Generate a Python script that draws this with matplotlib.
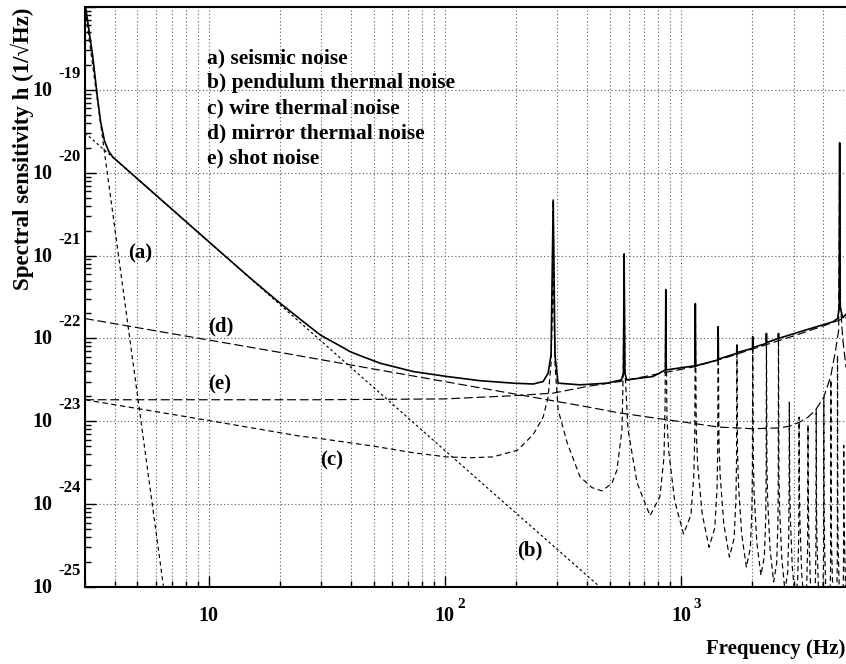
import numpy as np
import matplotlib
matplotlib.use('Agg')
import matplotlib.pyplot as plt
from matplotlib.ticker import LogLocator
from matplotlib.transforms import offset_copy

# ---------------- data ----------------
# (a) seismic noise
seis_f = [3.0, 4.59, 6.45, 7.0]
seis_logh = [-18.02, -21.90, -25.00, -25.75]

# (b) pendulum thermal noise
pend_f = [3.0, 10.0, 100.0, 1000.0]
pend_logh = [-19.52, -20.83, -23.35, -25.86]

# (c) wire thermal noise (violin modes)
wire_f = [3, 10, 24.5, 30, 50, 73.6, 102, 128, 160, 203, 237, 261, 274, 282, 286,
          288, 290, 293, 302, 330, 374, 420, 463, 510, 536, 563, 570,
          575, 580, 597, 652, 740, 815, 848, 857,
          863, 873, 888, 941, 1026, 1103, 1134, 1145,
          1151, 1162, 1177, 1231, 1315, 1391, 1422, 1432,
          1438, 1449, 1465, 1519, 1605, 1680, 1710, 1720,
          1726, 1737, 1753, 1808, 1893, 1968, 1998, 2008,
          2014, 2025, 2041, 2096, 2182, 2256, 2287, 2296,
          2302, 2313, 2329, 2384, 2470, 2544, 2574, 2583,
          2589, 2600, 2617, 2673, 2758, 2833, 2862, 2871,
          2877, 2888, 2905, 2961, 3047, 3121, 3150, 3160,
          3165, 3176, 3193, 3249, 3334, 3407, 3437, 3446,
          3452, 3463, 3480, 3536, 3622, 3696, 3726, 3734,
          3740, 3751, 3768, 3824, 3910, 3984, 4013, 4023,
          4028, 4039, 4056, 4112, 4198, 4271, 4300, 4309,
          4315, 4326, 4343, 4399, 4485, 4558, 4588, 4597,
          4603, 4615, 4631, 4688, 4774, 4847, 4877, 4885,
          4891, 4900, 5000]
wire_logh = [-22.74, -22.99, -23.18, -23.21, -23.30, -23.38, -23.43, -23.44, -23.43, -23.35, -23.16, -22.95, -22.71, -22.30, -21.60,
             -20.33, -21.60, -22.30, -22.86, -23.26, -23.67, -23.80, -23.84, -23.75, -23.59, -23.10, -22.40,
             -20.98, -22.40, -23.10, -23.74, -24.14, -23.91, -23.43, -22.80,
             -21.41, -22.96, -23.36, -23.96, -24.36, -24.13, -23.66, -23.16,
             -21.58, -23.12, -23.52, -24.12, -24.52, -24.29, -23.82, -23.32,
             -21.86, -23.24, -23.64, -24.24, -24.64, -24.41, -23.94, -23.44,
             -22.08, -23.36, -23.76, -24.36, -24.76, -24.53, -24.06, -23.56,
             -21.98, -23.46, -23.86, -24.46, -24.86, -24.63, -24.16, -23.66,
             -21.94, -23.54, -23.94, -24.54, -24.94, -24.71, -24.24, -23.74,
             -21.95, -23.65, -24.05, -24.65, -25.05, -24.82, -24.35, -23.85,
             -22.77, -23.75, -24.15, -24.75, -25.15, -24.92, -24.45, -23.95,
             -22.95, -23.85, -24.25, -24.85, -25.25, -25.02, -24.55, -24.05,
             -23.04, -23.95, -24.35, -24.95, -25.35, -25.12, -24.65, -24.15,
             -22.86, -24.05, -24.45, -25.05, -25.45, -25.22, -24.75, -24.25,
             -22.71, -24.10, -24.50, -25.10, -25.50, -25.27, -24.80, -24.30,
             -22.50, -24.10, -24.50, -25.10, -25.50, -25.27, -24.80, -24.30,
             -22.20, -24.10, -24.50, -25.10, -25.50, -25.27, -24.80, -24.30,
             -23.29, -24.10, -25.30]

# (d) mirror thermal noise
mirror_f = [3, 20.2, 374, 552, 864, 1157, 1448, 2016, 2597, 2878, 3186, 3454,
            3724, 4025, 4306, 4519, 4655, 4700, 4740, 4842, 5000]
mirror_logh = [-21.76, -22.17, -22.81, -22.90, -22.98, -23.03, -23.07, -23.09, -23.08, -23.06, -23.01, -22.95,
               -22.86, -22.71, -22.46, -22.14, -21.90, -19.64, -21.60, -22.00, -22.35]

# (e) shot noise
shot_f = [3, 30, 100, 200, 288, 400, 552, 761, 1146, 1600, 2000, 3000, 4000, 5000]
shot_logh = [-22.74, -22.74, -22.73, -22.69, -22.66, -22.58, -22.52, -22.44, -22.34, -22.22, -22.13, -21.97, -21.85, -21.75]

# total sensitivity
total_f = [3.0, 3.23, 3.39, 3.49, 3.63, 3.78, 3.93, 10, 15, 20.2, 25, 29.8, 35, 39.8, 45, 53.4, 73.6, 102.5, 141, 195, 237, 261, 274,
           282, 288, 293, 302, 374, 487, 560, 571, 575, 579, 590, 761, 860, 863, 866, 1147, 1151, 1155,
           1434, 1438, 1442, 1722, 1726, 1730, 2010, 2014, 2018, 2298, 2302, 2306, 2585, 2589, 2593,
           3186, 4392, 4611, 4680, 4700, 4720, 4842, 5000]
total_logh = [-17.95, -18.58, -19.10, -19.38, -19.62, -19.74, -19.81, -20.83, -21.27, -21.58, -21.79, -21.96, -22.07, -22.16, -22.22, -22.30, -22.40, -22.46, -22.51, -22.54, -22.55, -22.52, -22.42,
              -22.20, -20.33, -22.20, -22.54, -22.56, -22.54, -22.50, -22.42, -20.98, -22.42, -22.50, -22.46, -22.38, -21.41, -22.38, -22.33, -21.58, -22.33,
              -22.26, -21.86, -22.25, -22.18, -22.08, -22.17, -22.12, -21.98, -22.11, -22.06, -21.94, -22.05, -22.00, -21.94, -22.00,
              -21.92, -21.80, -21.76, -21.62, -19.64, -21.62, -21.75, -21.71]

legend_lines = ["a) seismic noise", "b) pendulum thermal noise", "c) wire thermal noise",
                "d) mirror thermal noise", "e) shot noise"]
curve_tags = ["(a)", "(b)", "(c)", "(d)", "(e)"]
x_tick_vals = [10, 100, 1000]
x_tick_exps = ["", "2", "3"]
y_tick_exps = [-25, -24, -23, -22, -21, -20, -19]

# ---------------- drawing ----------------
plt.rcParams['font.family'] = ['Liberation Serif', 'DejaVu Serif']
plt.rcParams['font.weight'] = 'bold'

W, H = 846, 664
fig = plt.figure(figsize=(W / 100, H / 100), dpi=100)
ax = fig.add_axes([85 / W, 77 / H, 761 / W, 580 / H])
ax.set_xscale('log')
ax.set_yscale('log')
ax.set_xlim(3, 5000)
ax.set_ylim(1e-25, 1e-18)


def pw(v):
    return 10.0 ** np.asarray(v, float)


lw_d = 0.85
ax.plot(seis_f, pw(seis_logh), color='black', lw=lw_d, ls=(0, (3.5, 2.8)))
ax.plot(pend_f, pw(pend_logh), color='black', lw=lw_d, ls=(0, (2.2, 2.2)))
ax.plot(wire_f, pw(wire_logh), color='black', lw=lw_d, ls=(0, (4.5, 3.0)))
ax.plot(mirror_f, pw(mirror_logh), color='black', lw=lw_d, ls=(0, (7.5, 3.2)))
ax.plot(shot_f, pw(shot_logh), color='black', lw=lw_d, ls=(0, (7.5, 3.2)))
ax.plot(total_f, pw(total_logh), color='black', lw=1.2, ls='-')

# grid
gkw = dict(color='0.35', lw=0.8, ls=(0, (1, 2.2)))
ax.grid(True, which='major', axis='both', **gkw)
ax.grid(True, which='minor', axis='x', **gkw)
ax.set_axisbelow(True)

# ticks
ax.xaxis.set_major_locator(LogLocator(base=10, numticks=20))
ax.xaxis.set_minor_locator(LogLocator(base=10, subs=np.arange(2, 10), numticks=100))
ax.yaxis.set_major_locator(LogLocator(base=10, numticks=20))
ax.yaxis.set_minor_locator(LogLocator(base=10, subs=np.arange(2, 10), numticks=100))
ax.tick_params(axis='both', which='both', direction='in', top=False, right=False,
               labelbottom=False, labelleft=False, width=1.0, color='black')
ax.tick_params(which='major', length=8)
ax.tick_params(which='minor', length=4.5)

for side in ['left', 'bottom', 'top']:
    ax.spines[side].set_linewidth(1.5)
ax.spines['right'].set_visible(False)

# tick labels (ROOT style 10^n)
xt = ax.get_xaxis_transform()
for v, e in zip(x_tick_vals, x_tick_exps):
    ax.text(v, -29 / 580, "10", transform=xt, ha='center', va='center',
            fontsize=14.5, fontweight='bold')
    if e:
        tr = offset_copy(xt, fig=fig, x=13, y=0, units='dots')
        ax.text(v, -17 / 580, e, transform=tr, ha='left', va='center',
                fontsize=11, fontweight='bold')

yt = ax.get_yaxis_transform()
for e in y_tick_exps:
    val = 10.0 ** e
    tr1 = offset_copy(yt, fig=fig, x=-33, y=-1, units='dots')
    ax.text(0, val, "10", transform=tr1, ha='right', va='center',
            fontsize=14.5, fontweight='bold')
    tr2 = offset_copy(yt, fig=fig, x=-4, y=16, units='dots')
    ax.text(0, val, str(e), transform=tr2, ha='right', va='center',
            fontsize=12, fontweight='bold')

# axis titles
fig.text(845 / W, 1 - 649 / H, "Frequency (Hz)", ha='right', va='center',
         fontsize=15, fontweight='bold')
fig.text(22 / W, 1 - 8 / H, "Spectral sensitivity h (1/\u221aHz)", rotation=90,
         ha='center', va='top', fontsize=16.5, fontweight='bold')

# legend text
leg_y = [58, 83, 108, 133, 158]
for t, yp in zip(legend_lines, leg_y):
    ax.text((207 - 85) / 761, (587 - yp) / 580, t, transform=ax.transAxes,
            ha='left', va='center', fontsize=15.5, fontweight='bold')

# curve tags
tag_pos = [(140, 253), (530, 550), (332, 460), (221, 326), (220, 384)]
for t, (xp, yp) in zip(curve_tags, tag_pos):
    ax.text((xp - 85) / 761, (587 - yp) / 580, t, transform=ax.transAxes,
            ha='center', va='center', fontsize=15, fontweight='bold')

fig.savefig('out.png', dpi=100)
